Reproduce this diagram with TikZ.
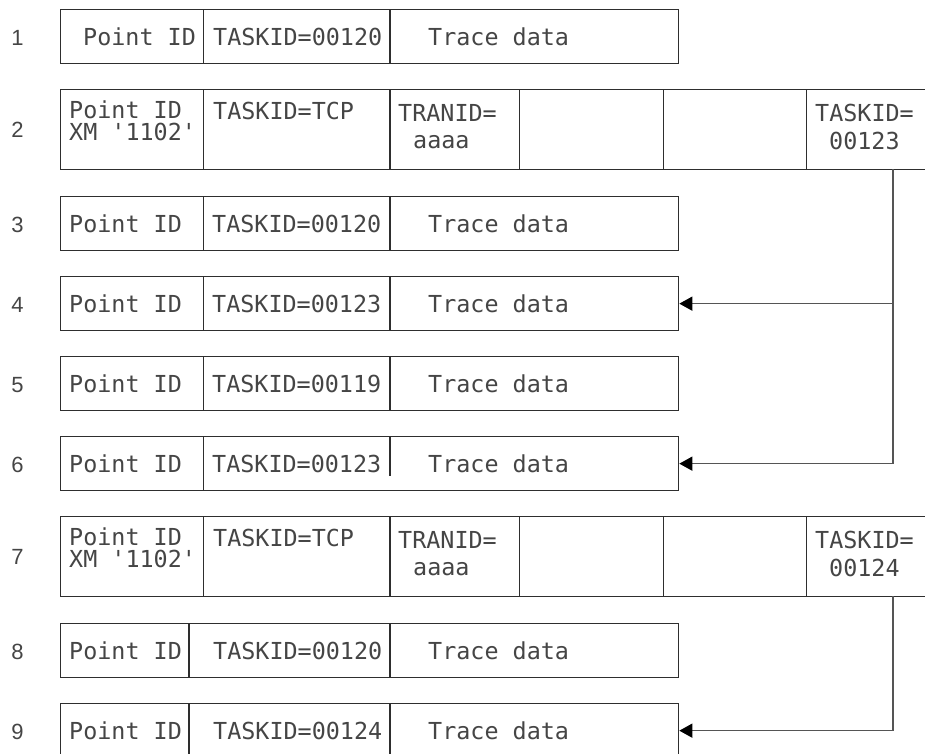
\documentclass[tikz,border=0pt]{standalone}
\usepackage{fontspec}
\newfontfamily\cellfont[Ligatures=TeXOff]{DejaVu Sans Mono}
\newfontfamily\numfont{Liberation Sans}
\usetikzlibrary{arrows.meta}
\definecolor{inkgray}{HTML}{454545}
\definecolor{boxgray}{HTML}{2E2E2E}
\definecolor{linkgray}{HTML}{555555}

\begin{document}
\begin{tikzpicture}[x=1pt, y=-1pt,
    rowbox/.style={draw=boxgray, line width=1.3pt, anchor=north west, inner sep=0pt, minimum height=#1},
    rowbox/.default=54pt,
    sep/.style={draw=boxgray, line width=1.3pt},
    txt/.style={anchor=base west, inner sep=0pt, text=inkgray, font=\cellfont\fontsize{23.4}{28}\selectfont},
    num/.style={anchor=base, inner sep=0pt, text=inkgray, font=\numfont\fontsize{22}{24}\selectfont},
    link/.style={draw=linkgray, line width=1.3pt, -{Triangle[length=13pt, width=14pt, fill=black, color=black]}}]
  \useasboundingbox (0,0) rectangle (925,753);
  \clip (0,0) rectangle (925,753);

  % row 1
  \node[num] (n1) at (17.5,45) {1};
  \node[rowbox, minimum width=618pt] (r1) at (60,9) {};
  \draw[sep] (203.5,9) -- (203.5,63);
  \draw[sep] (390,9) -- (390,63);
  \node[txt] (p1) at (83,45) {Point ID};
  \node[txt] (t1) at (213,45) {TASKID=00120};
  \node[txt] (d1) at (428,45) {Trace data};

  % row 2
  \node[num] (n2) at (17.5,137) {2};
  \node[rowbox=80pt, minimum width=880pt] (r2) at (60,89) {};
  \foreach \x in {203.5, 390, 519.3, 663.3, 806.7}
    \draw[sep] (\x,89) -- (\x,169);
  \node[txt] (p2) at (69,118) {Point ID};
  \node[txt] (x2) at (69,140) {XM '1102'};
  \node[txt] (t2) at (213,119) {TASKID=TCP};
  \node[txt] (a2) at (398,121) {TRANID=};
  \node[txt] (b2) at (413,148) {aaaa};
  \node[txt] (k2) at (815,121) {TASKID=};
  \node[txt] (c2) at (829,149) {00123};
  \coordinate (drop2) at (893,169);

  % rows 3 to 6
  \foreach \n/\top/\id/\cut in {3/196/00120/54, 4/276/00123/54, 5/356/00119/54, 6/436/00123/40} {
    \node[num] (n\n) at (17.5,{\top+36}) {\n};
    \node[rowbox, minimum width=618pt] (r\n) at (60,\top) {};
    \draw[sep] (203.5,\top) -- (203.5,{\top+54});
    \draw[sep] (390,\top) -- (390,{\top+\cut});
    \node[txt] (p\n) at (69,{\top+36}) {Point ID};
    \node[txt] (t\n) at (212,{\top+36}) {TASKID=\id};
    \node[txt] (d\n) at (428,{\top+36}) {Trace data};
  }

  % row 7
  \node[num] (n7) at (17.5,564) {7};
  \node[rowbox=80pt, minimum width=880pt] (r7) at (60,516) {};
  \foreach \x in {203.5, 390, 519.3, 663.3, 806.7}
    \draw[sep] (\x,516) -- (\x,596);
  \node[txt] (p7) at (69,545) {Point ID};
  \node[txt] (x7) at (69,567) {XM '1102'};
  \node[txt] (t7) at (213,546) {TASKID=TCP};
  \node[txt] (a7) at (398,548) {TRANID=};
  \node[txt] (b7) at (413,575) {aaaa};
  \node[txt] (k7) at (815,548) {TASKID=};
  \node[txt] (c7) at (829,576) {00124};
  \coordinate (drop7) at (893,596);

  % rows 8 and 9
  \foreach \n/\top/\id in {8/623/00120, 9/703/00124} {
    \node[num] (n\n) at (17.5,{\top+36}) {\n};
    \node[rowbox, minimum width=618pt] (r\n) at (60,\top) {};
    \draw[sep] (189,\top) -- (189,{\top+54});
    \draw[sep] (390,\top) -- (390,{\top+54});
    \node[txt] (p\n) at (69,{\top+36}) {Point ID};
    \node[txt] (t\n) at (213,{\top+36}) {TASKID=\id};
    \node[txt] (d\n) at (428,{\top+36}) {Trace data};
  }

  % task links
  \draw[link] (drop2) |- (r6.east);
  \draw[link] (drop2 |- r4.east) -- (r4.east);
  \draw[link] (drop7) |- (r9.east);
\end{tikzpicture}
\end{document}
